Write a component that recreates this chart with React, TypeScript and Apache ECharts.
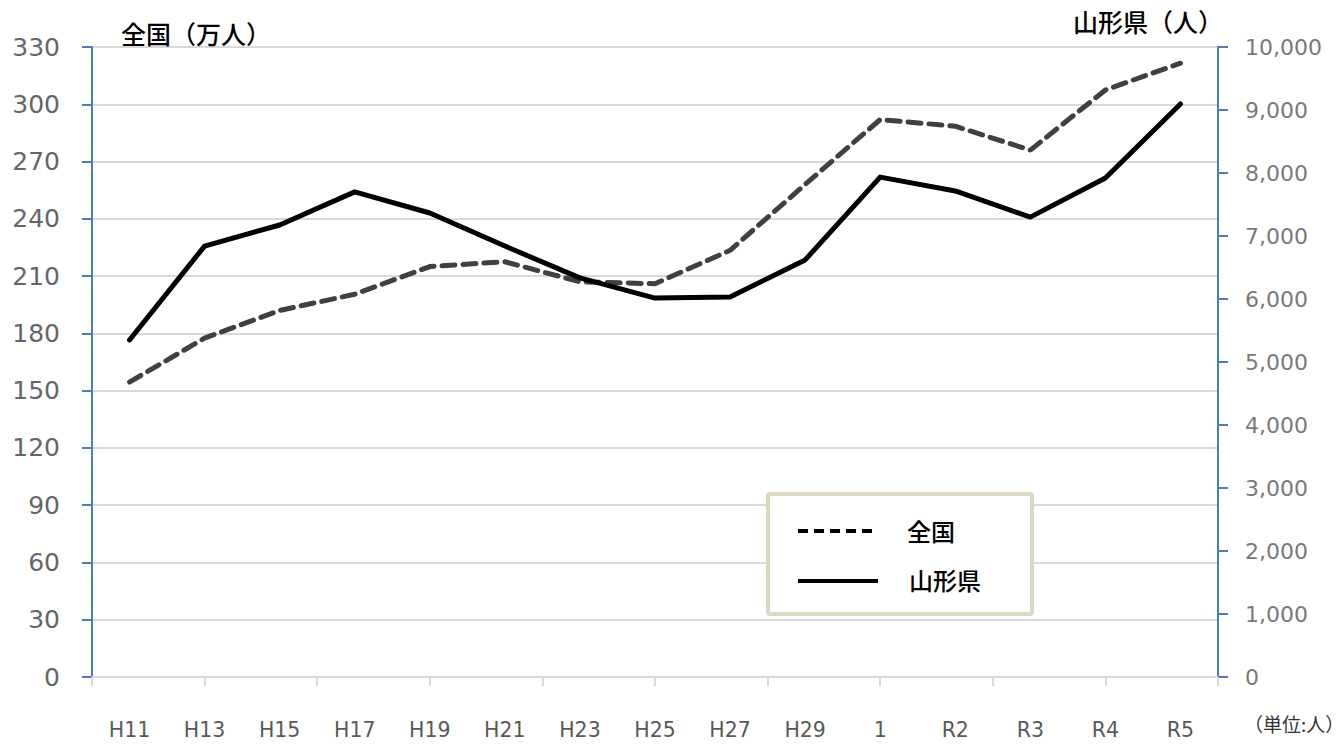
import React, { useEffect, useRef } from "react";
import * as echarts from "echarts";

const categories = ["H11", "H13", "H15", "H17", "H19", "H21", "H23", "H25", "H27", "H29", "1", "R2", "R3", "R4", "R5"];
const zenkoku = [154.5, 177.5, 192, 200.5, 215, 217.5, 207, 206, 223.5, 258, 292, 288.5, 276, 307.5, 321.5];
const yamagata = [5350, 6840, 7175, 7700, 7365, 6840, 6335, 6015, 6030, 6620, 7935, 7715, 7300, 7920, 9095];
const leftTitle = "全国（万人）";
const rightTitle = "山形県（人）";
const unitNote = "（単位:人）";
const legendNames = ["全国", "山形県"];

const CJK = "'Noto Sans CJK JP', sans-serif";

export default function App() {
  const ref = useRef<HTMLDivElement>(null);
  useEffect(() => {
    if (!ref.current) return;
    const chart = echarts.init(ref.current, null, { renderer: "svg" });
    chart.setOption({
      animation: false,
      backgroundColor: "#ffffff",
      grid: { left: 92, right: 126, top: 47, bottom: 68 },
      xAxis: [
        {
          type: "category",
          data: categories,
          boundaryGap: true,
          axisLine: { show: true, lineStyle: { color: "#d9d9d9", width: 2 } },
          axisTick: { show: false },
          axisLabel: {
            color: "#595959",
            fontSize: 20.5,
            fontFamily: "'DejaVu Sans', sans-serif",
            margin: 42,
            interval: 0,
          },
          splitLine: { show: false },
        },
        {
          type: "value",
          position: "bottom",
          min: 0,
          max: 10,
          interval: 1,
          axisLine: { show: false },
          axisTick: { show: true, length: 9, lineStyle: { color: "#d9d9d9", width: 2 } },
          axisLabel: { show: false },
          splitLine: { show: false },
        },
      ],
      yAxis: [
        {
          type: "value",
          min: 0,
          max: 330,
          interval: 30,
          position: "left",
          axisLine: { show: true, lineStyle: { color: "#4a7ebb", width: 2 } },
          axisTick: { show: true, length: 10, lineStyle: { color: "#4a7ebb", width: 2 } },
          axisLabel: { color: "#666666", fontSize: 25, fontFamily: "'DejaVu Sans', sans-serif", margin: 32 },
          splitLine: { show: true, lineStyle: { color: "#d9d9d9", width: 2 } },
        },
        {
          type: "value",
          min: 0,
          max: 10000,
          interval: 1000,
          position: "right",
          axisLine: { show: true, lineStyle: { color: "#4a7ebb", width: 2 } },
          axisTick: { show: true, length: 10, lineStyle: { color: "#4a7ebb", width: 2 } },
          axisLabel: {
            color: "#7a7a7a",
            fontSize: 22,
            fontFamily: "'DejaVu Sans', sans-serif",
            margin: 27,
            formatter: (v: number) => v.toLocaleString("en-US"),
          },
          splitLine: { show: false },
        },
      ],
      series: [
        {
          name: legendNames[0],
          type: "line",
          data: zenkoku,
          yAxisIndex: 0,
          xAxisIndex: 0,
          symbol: "none",
          lineStyle: { color: "#404040", width: 5, type: [13, 8], cap: "round" },
          z: 3,
        },
        {
          name: legendNames[1],
          type: "line",
          data: yamagata,
          yAxisIndex: 1,
          xAxisIndex: 0,
          symbol: "none",
          lineStyle: { color: "#000000", width: 5, cap: "round", join: "round" },
          z: 4,
        },
      ],
      graphic: [
        {
          type: "text",
          left: 121,
          top: 20,
          z: 100,
          style: { text: leftTitle, font: `500 25px ${CJK}`, fill: "#000" },
        },
        {
          type: "text",
          right: 121,
          top: 8,
          z: 100,
          style: { text: rightTitle, font: `500 25px ${CJK}`, fill: "#000" },
        },
        {
          type: "text",
          left: 1244,
          top: 714,
          style: { text: unitNote, font: `19px ${CJK}`, fill: "#333" },
        },
        {
          type: "rect",
          shape: { x: 768, y: 494, width: 264, height: 120, r: 2 },
          style: { fill: "#ffffff", stroke: "#ddd8c2", lineWidth: 4 },
          z: 10,
        },
        {
          type: "line",
          shape: { x1: 798, y1: 531, x2: 874, y2: 531 },
          style: { stroke: "#000", lineWidth: 4, lineDash: [10, 6] },
          z: 11,
        },
        {
          type: "line",
          shape: { x1: 798, y1: 581, x2: 878, y2: 581 },
          style: { stroke: "#000", lineWidth: 4 },
          z: 11,
        },
        {
          type: "text",
          left: 907,
          top: 518,
          style: { text: legendNames[0], font: `500 24px ${CJK}`, fill: "#000" },
          z: 11,
        },
        {
          type: "text",
          left: 909,
          top: 567,
          style: { text: legendNames[1], font: `500 24px ${CJK}`, fill: "#000" },
          z: 11,
        },
      ],
    });
    return () => chart.dispose();
  }, []);
  return (
    <div style={{ position: "fixed", left: 0, top: 0, width: 1344, height: 745, background: "#fff" }}>
      <div ref={ref} style={{ width: 1344, height: 745 }} />
    </div>
  );
}
